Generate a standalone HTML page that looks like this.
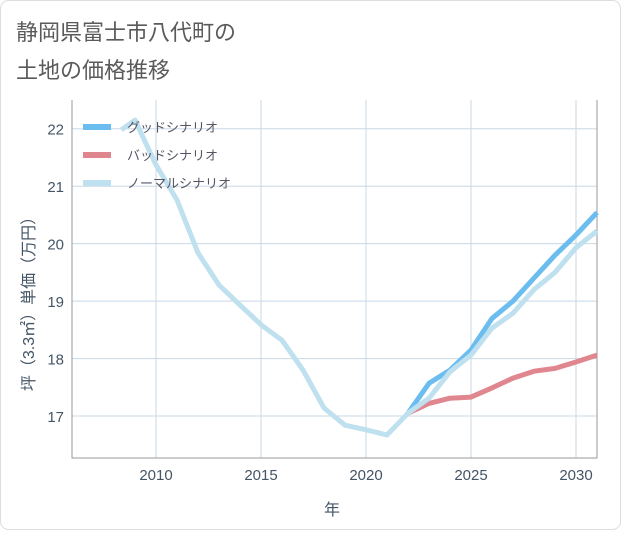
<!DOCTYPE html>
<html><head><meta charset="utf-8"><style>
body{margin:0;background:#fff;}
#c{position:relative;width:621px;height:530px;font-family:"Liberation Sans","Noto Sans CJK JP",sans-serif;}
</style></head><body>
<div id="c">
<svg width="621" height="530" xmlns="http://www.w3.org/2000/svg" id="svg">
<rect x="0.5" y="0.5" width="620" height="529" rx="8" fill="#fff" stroke="#ddd"/>
<text x="16" y="40" font-size="22" fill="#5a5a5a" font-family="Liberation Sans, Noto Sans CJK JP, sans-serif">静岡県富士市八代町の</text>
<text x="16" y="78" font-size="22" fill="#5a5a5a" font-family="Liberation Sans, Noto Sans CJK JP, sans-serif">土地の価格推移</text>
<g id="grid"></g>
<g id="lines"></g>
<g id="legend"></g>
<text x="332" y="515" font-size="16" fill="#456" text-anchor="middle" font-family="Liberation Sans, Noto Sans CJK JP, sans-serif">年</text>
<text transform="translate(34,300) rotate(-90)" font-size="16" fill="#456" text-anchor="middle" font-family="Liberation Sans, Noto Sans CJK JP, sans-serif">坪（3.3㎡）単価（万円）</text>
</svg>
</div>
<script>
const years=[2008.35,2009,2010,2011,2012,2013,2014,2015,2016,2017,2018,2019,2020,2021,2022,2023,2024,2025,2026,2027,2028,2029,2030,2031];
const normal=[21.98,22.15,21.37,20.76,19.84,19.28,18.93,18.59,18.32,17.8,17.14,16.84,16.76,16.67,17.05,17.31,17.77,18.06,18.53,18.79,19.2,19.5,19.93,20.22];
const futureYears=[2022,2023,2024,2025,2026,2027,2028,2029,2030,2031];
const good=[17.05,17.57,17.8,18.15,18.7,19.0,19.4,19.8,20.15,20.54];
const bad=[17.05,17.22,17.31,17.33,17.49,17.66,17.78,17.83,17.94,18.06];
const xTicks=[2010,2015,2020,2025,2030];
const yTicks=[17,18,19,20,21,22];
const X0=72,X1=597,Y0=100,Y1=458,xmin=2006,xmax=2031,ymin=16.27,ymax=22.5;
const sx=v=>X0+(v-xmin)/(xmax-xmin)*(X1-X0);
const sy=v=>Y1-(v-ymin)/(ymax-ymin)*(Y1-Y0);
const NS="http://www.w3.org/2000/svg";
const grid=document.getElementById('grid'),lines=document.getElementById('lines'),leg=document.getElementById('legend');
function mk(t,a,p){const e=document.createElementNS(NS,t);for(const k in a)e.setAttribute(k,a[k]);p.appendChild(e);return e;}
xTicks.forEach(t=>{
 const l=mk('line',{x1:sx(t),x2:sx(t),y1:Y0,y2:Y1,stroke:'#c8d8e6','stroke-width':1},grid);
 
 
 const tx=mk('text',{x:sx(t),y:480,'font-size':15,fill:'#456','text-anchor':'middle'},grid);
 tx.textContent=t;
 
 
});
yTicks.forEach(t=>{
 const l=mk('line',{x1:X0,x2:X1,y1:sy(t),y2:sy(t),stroke:'#c8d8e6','stroke-width':1},grid);
 
 
 const tx=mk('text',{x:64,y:sy(t)+6,'font-size':15,fill:'#456','text-anchor':'end'},grid);
 tx.textContent=t;
 
 
});
const ax=mk('path',{d:`M${X0},${Y0}V${Y1}H${X1}V${Y0}`,fill:'none',stroke:'#999','stroke-width':1},grid);


function series(xs,ys,color,name){
 const d=xs.map((x,i)=>(i?'L':'M')+sx(x).toFixed(1)+','+sy(ys[i]).toFixed(1)).join('');
 const p=mk('path',{d:d,fill:'none',stroke:color,'stroke-width':5,'stroke-linejoin':'round'},lines);
 
 
}
series(futureYears,good,'#6bbdf0','good-scenario-line');
series(futureYears,bad,'#e0868e','bad-scenario-line');
series(years,normal,'#bfe0ee','normal-scenario-line');
[['グッドシナリオ','#6bbdf0','legend-good'],['バッドシナリオ','#e0868e','legend-bad'],['ノーマルシナリオ','#bfe0ee','legend-normal']].forEach((e,i)=>{
 const y=127+i*28;
 const g=mk('g',{},leg);
 
 
 mk('rect',{x:83,y:y-3,width:28,height:6,fill:e[1]},g);
 const t=mk('text',{x:127,y:y+5,'font-size':13,fill:'#556'},g);
 t.textContent=e[0];
});
</script>
</body></html>
